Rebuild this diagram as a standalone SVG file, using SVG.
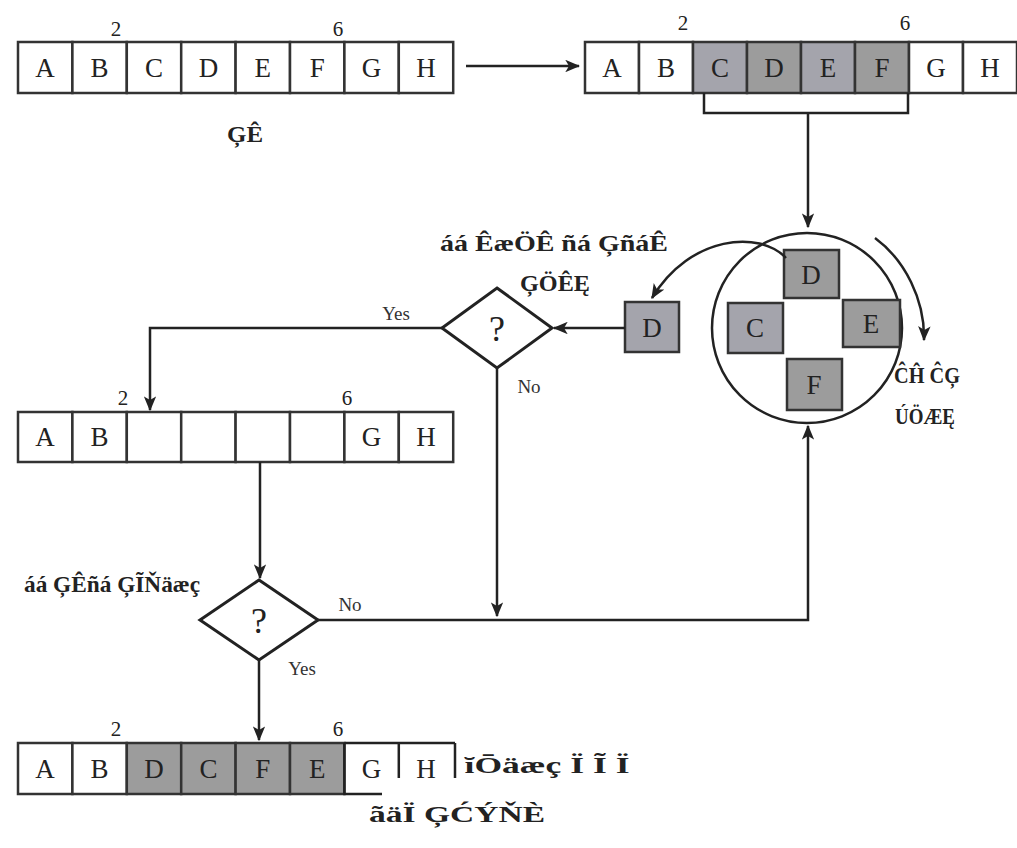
<svg xmlns="http://www.w3.org/2000/svg" width="1017" height="848" viewBox="0 0 1017 848">
<style>
.cell{fill:#fff;stroke:#333;stroke-width:2.5}
.sh{fill:#a4a4ac;stroke:#333;stroke-width:2.5}
.sh2{fill:#9c9c9c;stroke:#333;stroke-width:2.5}
.lt{font-family:"Liberation Serif",serif;font-size:27px;fill:#222;text-anchor:middle}
.num{font-family:"Liberation Serif",serif;font-size:21px;fill:#222;text-anchor:middle}
.yn{font-family:"Liberation Serif",serif;font-size:19px;fill:#333;text-anchor:middle}
.gb{font-family:"Liberation Serif",serif;font-size:23px;font-weight:bold;fill:#222;text-anchor:middle}
.ln{fill:none;stroke:#222;stroke-width:2.5}
.dm{fill:#fff;stroke:#222;stroke-width:3}
.q{font-family:"Liberation Serif",serif;font-size:36px;fill:#222;text-anchor:middle}
</style>
<defs>
<marker id="ah" viewBox="0 0 12 10" refX="11" refY="5" markerWidth="6" markerHeight="5" orient="auto" markerUnits="strokeWidth">
<path d="M0,0 L12,5 L0,10 L3,5 z" fill="#222"/>
</marker>
</defs>

<g id="array1">
<rect class="cell" x="18" y="42" width="54.4" height="51"/>
<rect class="cell" x="72.4" y="42" width="54.4" height="51"/>
<rect class="cell" x="126.8" y="42" width="54.4" height="51"/>
<rect class="cell" x="181.2" y="42" width="54.4" height="51"/>
<rect class="cell" x="235.6" y="42" width="54.4" height="51"/>
<rect class="cell" x="290" y="42" width="54.4" height="51"/>
<rect class="cell" x="344.4" y="42" width="54.4" height="51"/>
<rect class="cell" x="398.8" y="42" width="54.4" height="51"/>
<text class="lt" x="45" y="77">A</text><text class="lt" x="99.6" y="77">B</text><text class="lt" x="154" y="77">C</text><text class="lt" x="208.4" y="77">D</text><text class="lt" x="262.8" y="77">E</text><text class="lt" x="317.2" y="77">F</text><text class="lt" x="371.6" y="77">G</text><text class="lt" x="426" y="77">H</text>
<text class="num" x="116" y="36">2</text><text class="num" x="338" y="36">6</text>
<text class="gb" x="245" y="142" textLength="36" lengthAdjust="spacingAndGlyphs">ĢÊ</text>
</g>

<g id="array2">
<rect class="cell" x="585" y="42" width="54" height="51"/>
<rect class="cell" x="639" y="42" width="54" height="51"/>
<rect class="sh" x="693" y="42" width="54" height="51"/>
<rect class="sh2" x="747" y="42" width="54" height="51"/>
<rect class="sh" x="801" y="42" width="54" height="51"/>
<rect class="sh2" x="855" y="42" width="54" height="51"/>
<rect class="cell" x="909" y="42" width="54" height="51"/>
<rect class="cell" x="963" y="42" width="54" height="51"/>
<text class="lt" x="612" y="77">A</text><text class="lt" x="666" y="77">B</text><text class="lt" x="720" y="77">C</text><text class="lt" x="774" y="77">D</text><text class="lt" x="828" y="77">E</text><text class="lt" x="882" y="77">F</text><text class="lt" x="936" y="77">G</text><text class="lt" x="990" y="77">H</text>
<text class="num" x="683" y="30">2</text><text class="num" x="905" y="30">6</text>
</g>

<g id="circle">
<circle cx="807" cy="328" r="95" fill="#fff" stroke="#222" stroke-width="2.5"/>
<rect class="sh2" x="784" y="250" width="55" height="48"/>
<rect class="sh" x="728" y="303" width="55" height="50"/>
<rect class="sh2" x="843" y="300" width="57" height="47"/>
<rect class="sh2" x="787" y="359" width="55" height="51"/>
<text class="lt" x="811" y="284">D</text><text class="lt" x="755" y="337">C</text><text class="lt" x="871" y="333">E</text><text class="lt" x="814" y="394">F</text>
<text class="gb" x="927" y="383" textLength="66" lengthAdjust="spacingAndGlyphs">ĈĤ ĈĢ</text>
<text class="gb" x="925" y="424" textLength="60" lengthAdjust="spacingAndGlyphs">ÚÖÆĘ</text>
</g>

<g id="boxD">
<rect class="sh" x="625" y="302" width="54" height="50"/>
<text class="lt" x="652" y="337">D</text>
<text class="gb" x="554" y="251" textLength="228" lengthAdjust="spacingAndGlyphs">áá ÊæÖÊ ñá ĢñáÊ</text>
<text class="gb" x="555" y="291" textLength="70" lengthAdjust="spacingAndGlyphs">ĢÖÊĘ</text>
</g>

<g id="decision1">
<polygon class="dm" points="497,288 552,328 497,368 442,328"/>
<text class="q" x="497" y="341">?</text>
</g>

<g id="array3">
<rect class="cell" x="18" y="412" width="54.4" height="50"/>
<rect class="cell" x="72.4" y="412" width="54.4" height="50"/>
<rect class="cell" x="126.8" y="412" width="54.4" height="50"/>
<rect class="cell" x="181.2" y="412" width="54.4" height="50"/>
<rect class="cell" x="235.6" y="412" width="54.4" height="50"/>
<rect class="cell" x="290" y="412" width="54.4" height="50"/>
<rect class="cell" x="344.4" y="412" width="54.4" height="50"/>
<rect class="cell" x="398.8" y="412" width="54.4" height="50"/>
<text class="lt" x="45" y="446">A</text><text class="lt" x="99.6" y="446">B</text><text class="lt" x="371.6" y="446">G</text><text class="lt" x="426" y="446">H</text>
<text class="num" x="123" y="405">2</text><text class="num" x="347" y="405">6</text>
</g>

<g id="decision2">
<polygon class="dm" points="259,580 318,620 259,660 200,620"/>
<text class="q" x="259" y="633">?</text>
<text class="gb" x="112" y="592" textLength="176" lengthAdjust="spacingAndGlyphs">áá ĢÊñá ĢĨŇäæç</text>
</g>

<g id="array4">
<rect class="cell" x="18" y="743" width="54.4" height="51"/>
<rect class="cell" x="72.4" y="743" width="54.4" height="51"/>
<rect class="sh2" x="126.8" y="743" width="54.4" height="51"/>
<rect class="sh2" x="181.2" y="743" width="54.4" height="51"/>
<rect class="sh2" x="235.6" y="743" width="54.4" height="51"/>
<rect class="sh2" x="290" y="743" width="54.4" height="51"/>
<path class="ln" d="M344.4,743 H455 M344.4,743 V794 H382 M398.8,743 V778 M455,743 V778"/>
<text class="lt" x="45" y="778">A</text><text class="lt" x="99.6" y="778">B</text><text class="lt" x="154" y="778">D</text><text class="lt" x="208.4" y="778">C</text><text class="lt" x="262.8" y="778">F</text><text class="lt" x="317.2" y="778">E</text><text class="lt" x="371.6" y="778">G</text><text class="lt" x="426" y="778">H</text>
<text class="num" x="116" y="736">2</text><text class="num" x="338" y="736">6</text>
<text class="gb" x="547" y="773" font-size="20" textLength="165" lengthAdjust="spacingAndGlyphs">ĭŌäæç Ï Ĩ Ï</text>
<text class="gb" x="457" y="822" font-size="26" textLength="176" lengthAdjust="spacingAndGlyphs">ãäÏ ĢĆÝŇÈ</text>
</g>

<g id="connectors">
<path class="ln" d="M466,66 H579" marker-end="url(#ah)"/>
<path class="ln" d="M704,93 V113 H908 V93 M808,113 V227" marker-end="url(#ah)"/>
<path class="ln" d="M786,258 C760,230 690,235 652,298" marker-end="url(#ah)"/>
<path class="ln" d="M875,238 C905,260 925,300 924,340" marker-end="url(#ah)"/>
<path class="ln" d="M625,328 H554" marker-end="url(#ah)"/>
<path class="ln" d="M442,328 H150 V410" marker-end="url(#ah)"/>
<path class="ln" d="M497,368 V616" marker-end="url(#ah)"/>
<path class="ln" d="M260,462 V578" marker-end="url(#ah)"/>
<path class="ln" d="M318,620 H808 V426" marker-end="url(#ah)"/>
<path class="ln" d="M259,660 V740" marker-end="url(#ah)"/>
<text class="yn" x="396" y="320">Yes</text>
<text class="yn" x="529" y="393">No</text>
<text class="yn" x="350" y="611">No</text>
<text class="yn" x="302" y="675">Yes</text>
</g>
</svg>
